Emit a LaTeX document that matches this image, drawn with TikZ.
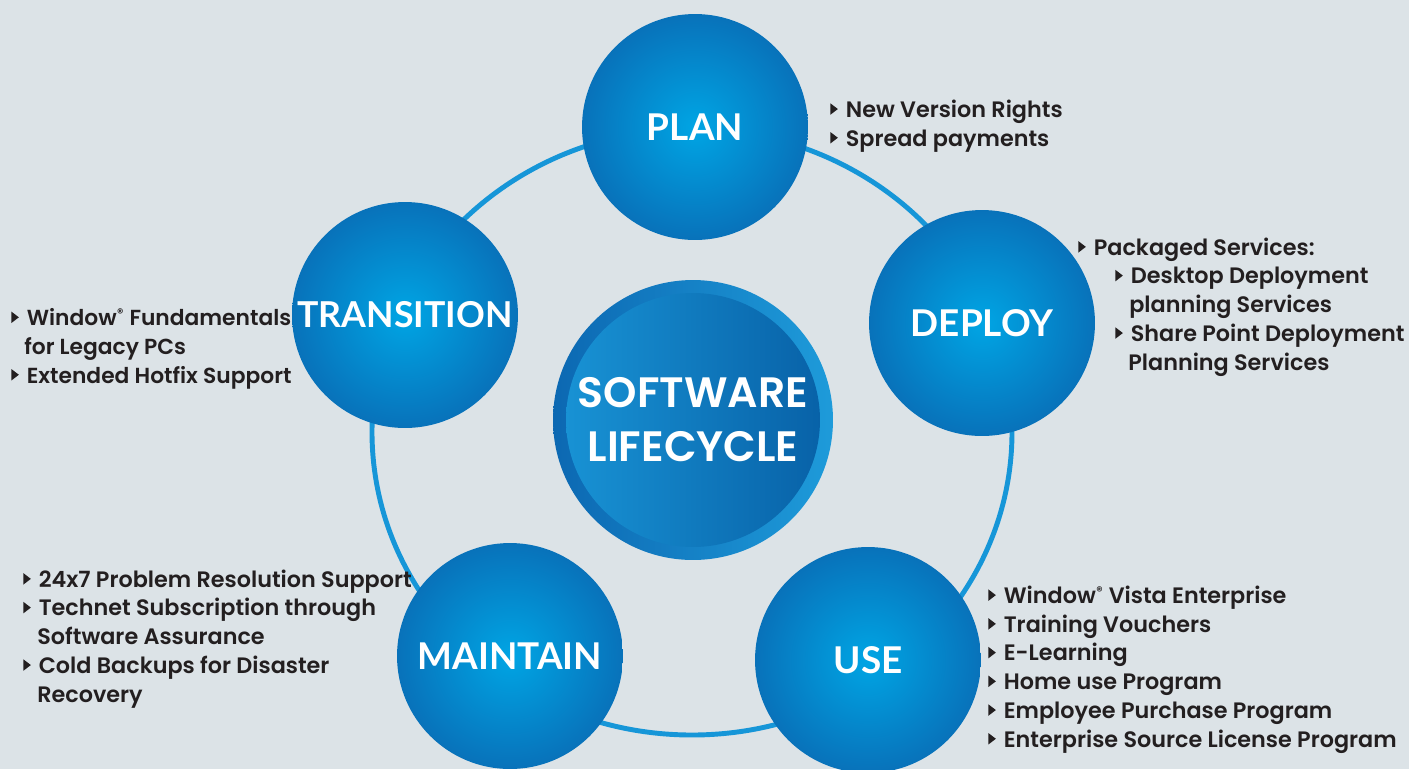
\documentclass[tikz,border=0pt]{standalone}
\usepackage{fontspec}
\setmainfont{Poppins}[UprightFont={* Medium}, BoldFont={* SemiBold}]
\newfontfamily\labelfont{Lato}
\usepackage{tikz}
\usetikzlibrary{positioning}

\definecolor{bgcol}{RGB}{220,227,231}
\definecolor{ringblue}{RGB}{22,150,216}
\definecolor{ballin}{RGB}{0,165,228}
\definecolor{ballout}{RGB}{8,114,186}
\definecolor{hubdark}{RGB}{12,104,178}
\definecolor{hublight}{RGB}{30,155,218}
\definecolor{coreleft}{RGB}{24,146,212}
\definecolor{coreright}{RGB}{8,98,168}
\definecolor{txt}{RGB}{35,31,32}

% small black pointer in front of every list entry
\newcommand\bul{\tikz[baseline=-0.05cm]\fill[txt] (0cm,0cm) -- (0.15cm,0.115cm) -- (0cm,0.23cm) -- cycle;\hspace{0.16cm}}
\newcommand\reg{\kern0.02em\textsuperscript{\scriptsize\textregistered}}

\begin{document}
\begin{tikzpicture}[
    x=0.02cm, y=-0.02cm,
    ball/.style={
        circle,
        minimum size=4.52cm,
        inner sep=0pt,
        inner color=ballin,
        outer color=ballout,
        text=white,
        font=\labelfont\bfseries\fontsize{21}{24}\selectfont
    },
    ring/.style={ringblue, line width=2.8pt},
    % lists are placed by the baseline of their last line
    list/.style={
        anchor=base west,
        inner sep=0pt,
        align=left,
        text=txt,
        font=\bfseries\fontsize{12.7}{16.35}\selectfont
    }
]

% Background
\fill[bgcol] (0,0) rectangle (1409,769);
\useasboundingbox (0,0) rectangle (1409,769);

% Ring through the stages
\draw[ring] (692,432) ellipse [x radius=320, y radius=303];

% Hub
\node (hub) at (693,420) [circle, minimum size=5.6cm, inner sep=0pt,
    left color=hubdark, right color=hublight] {};
\node (core) at (hub) [circle, minimum size=5.08cm, inner sep=0pt,
    left color=coreleft, right color=coreright, text=white, align=center,
    font=\bfseries\fontsize{24.2}{30.7}\selectfont] {SOFTWARE\\LIFECYCLE};

% Stages
\node (plan) [ball] at (695,127) {PLAN};
\node (deploy) [ball] at (982,323) {DEPLOY};
\node (use) [ball] at (868,660) {USE};
\node (maintain) [ball] at (510,656) {MAINTAIN};
\node (transition) [ball, font=\labelfont\bfseries\fontsize{20.3}{24}\selectfont] at (405,315) {TRANSITION};

% Lists
\node (planlist) [list] at (830,146) {\bul New Version Rights\\ \bul Spread payments};
\node (deploylist) [list] at (1078,370) {\bul Packaged Services:\\
    \hspace*{0.74cm}\bul Desktop Deployment\\
    \hspace*{1.02cm}planning Services\\
    \hspace*{0.74cm}\bul Share Point Deployment\\
    \hspace*{1.0cm}Planning Services};
\node (uselist) [list] at (988,747) {\bul Window\reg{} Vista Enterprise\\
    \bul Training Vouchers\\
    \bul E-Learning\\
    \bul Home use Program\\
    \bul Employee Purchase Program\\
    \bul Enterprise Source License Program};
\node (maintainlist) [list] at (23,702) {\bul 24x7 Problem Resolution Support\\
    \bul Technet Subscription through\\
    \hspace*{0.28cm}Software Assurance\\
    \bul Cold Backups for Disaster\\
    \hspace*{0.28cm}Recovery};
\node (transitionlist) [list, font=\bfseries\fontsize{12.4}{16.35}\selectfont] at (11,383) {\bul Window\reg{} Fundamentals\\
    \hspace*{0.26cm}for Legacy PCs\\
    \bul Extended Hotfix Support};

\end{tikzpicture}
\end{document}
